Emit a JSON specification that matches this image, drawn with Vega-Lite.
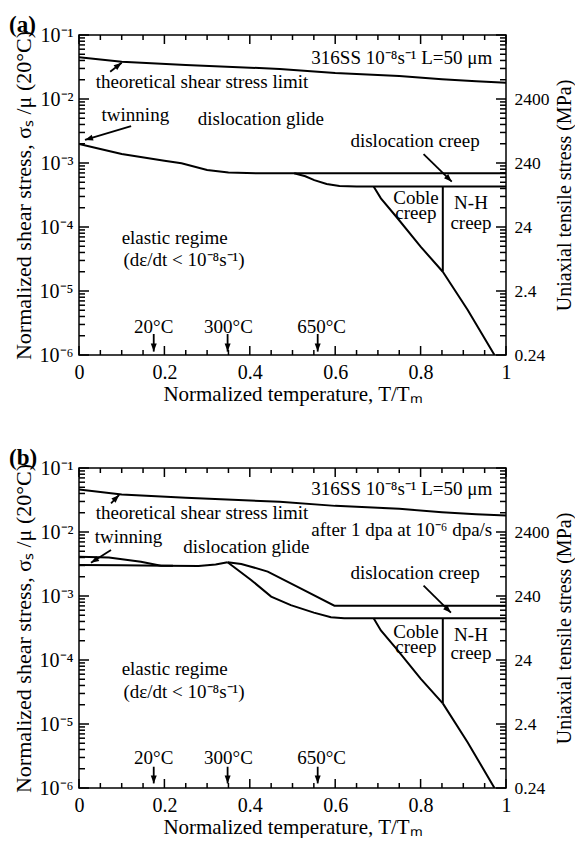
{
  "$schema": "https://vega.github.io/schema/vega-lite/v6.json",
  "padding": {"left": 8, "top": 13, "right": 0, "bottom": 0},
  "spacing": 113,
  "bounds": "flush",
  "config": {
    "font": "Liberation Serif",
    "view": {"stroke": "black", "strokeWidth": 1.5},
    "axis": {"labelFontSize": 20, "titleFontSize": 21, "titleFontWeight": "normal", "labelColor": "black", "titleColor": "black", "domain": false, "grid": false, "labelFlush": false, "ticks": false}
  },
  "datasets": {
    "yticks": [
      {"v": 0.000001, "major": true, "side": 0}, {"v": 0.000002, "major": false, "side": 0}, {"v": 0.000003, "major": false, "side": 0}, {"v": 0.000004, "major": false, "side": 0}, {"v": 0.000005, "major": false, "side": 0}, {"v": 0.000006, "major": false, "side": 0}, {"v": 0.000007, "major": false, "side": 0}, {"v": 0.000008, "major": false, "side": 0}, {"v": 0.000009, "major": false, "side": 0},
      {"v": 0.00001, "major": true, "side": 0}, {"v": 0.00002, "major": false, "side": 0}, {"v": 0.00003, "major": false, "side": 0}, {"v": 0.00004, "major": false, "side": 0}, {"v": 0.00005, "major": false, "side": 0}, {"v": 0.00006, "major": false, "side": 0}, {"v": 0.00007, "major": false, "side": 0}, {"v": 0.00008, "major": false, "side": 0}, {"v": 0.00009, "major": false, "side": 0},
      {"v": 0.0001, "major": true, "side": 0}, {"v": 0.0002, "major": false, "side": 0}, {"v": 0.0003, "major": false, "side": 0}, {"v": 0.0004, "major": false, "side": 0}, {"v": 0.0005, "major": false, "side": 0}, {"v": 0.0006, "major": false, "side": 0}, {"v": 0.0007, "major": false, "side": 0}, {"v": 0.0008, "major": false, "side": 0}, {"v": 0.0009, "major": false, "side": 0},
      {"v": 0.001, "major": true, "side": 0}, {"v": 0.002, "major": false, "side": 0}, {"v": 0.003, "major": false, "side": 0}, {"v": 0.004, "major": false, "side": 0}, {"v": 0.005, "major": false, "side": 0}, {"v": 0.006, "major": false, "side": 0}, {"v": 0.007, "major": false, "side": 0}, {"v": 0.008, "major": false, "side": 0}, {"v": 0.009, "major": false, "side": 0},
      {"v": 0.01, "major": true, "side": 0}, {"v": 0.02, "major": false, "side": 0}, {"v": 0.03, "major": false, "side": 0}, {"v": 0.04, "major": false, "side": 0}, {"v": 0.05, "major": false, "side": 0}, {"v": 0.06, "major": false, "side": 0}, {"v": 0.07, "major": false, "side": 0}, {"v": 0.08, "major": false, "side": 0}, {"v": 0.09, "major": false, "side": 0},
      {"v": 0.1, "major": true, "side": 0},
      {"v": 0.000001, "major": true, "side": 1}, {"v": 0.000002, "major": false, "side": 1}, {"v": 0.000003, "major": false, "side": 1}, {"v": 0.000004, "major": false, "side": 1}, {"v": 0.000005, "major": false, "side": 1}, {"v": 0.000006, "major": false, "side": 1}, {"v": 0.000007, "major": false, "side": 1}, {"v": 0.000008, "major": false, "side": 1}, {"v": 0.000009, "major": false, "side": 1},
      {"v": 0.00001, "major": true, "side": 1}, {"v": 0.00002, "major": false, "side": 1}, {"v": 0.00003, "major": false, "side": 1}, {"v": 0.00004, "major": false, "side": 1}, {"v": 0.00005, "major": false, "side": 1}, {"v": 0.00006, "major": false, "side": 1}, {"v": 0.00007, "major": false, "side": 1}, {"v": 0.00008, "major": false, "side": 1}, {"v": 0.00009, "major": false, "side": 1},
      {"v": 0.0001, "major": true, "side": 1}, {"v": 0.0002, "major": false, "side": 1}, {"v": 0.0003, "major": false, "side": 1}, {"v": 0.0004, "major": false, "side": 1}, {"v": 0.0005, "major": false, "side": 1}, {"v": 0.0006, "major": false, "side": 1}, {"v": 0.0007, "major": false, "side": 1}, {"v": 0.0008, "major": false, "side": 1}, {"v": 0.0009, "major": false, "side": 1},
      {"v": 0.001, "major": true, "side": 1}, {"v": 0.002, "major": false, "side": 1}, {"v": 0.003, "major": false, "side": 1}, {"v": 0.004, "major": false, "side": 1}, {"v": 0.005, "major": false, "side": 1}, {"v": 0.006, "major": false, "side": 1}, {"v": 0.007, "major": false, "side": 1}, {"v": 0.008, "major": false, "side": 1}, {"v": 0.009, "major": false, "side": 1},
      {"v": 0.01, "major": true, "side": 1}, {"v": 0.02, "major": false, "side": 1}, {"v": 0.03, "major": false, "side": 1}, {"v": 0.04, "major": false, "side": 1}, {"v": 0.05, "major": false, "side": 1}, {"v": 0.06, "major": false, "side": 1}, {"v": 0.07, "major": false, "side": 1}, {"v": 0.08, "major": false, "side": 1}, {"v": 0.09, "major": false, "side": 1},
      {"v": 0.1, "major": true, "side": 1}
    ],
    "xticks": [
      {"v": 0, "major": true, "side": 0.000001}, {"v": 0.05, "major": false, "side": 0.000001}, {"v": 0.1, "major": false, "side": 0.000001}, {"v": 0.15, "major": false, "side": 0.000001}, {"v": 0.2, "major": true, "side": 0.000001}, {"v": 0.25, "major": false, "side": 0.000001}, {"v": 0.3, "major": false, "side": 0.000001}, {"v": 0.35, "major": false, "side": 0.000001}, {"v": 0.4, "major": true, "side": 0.000001}, {"v": 0.45, "major": false, "side": 0.000001}, {"v": 0.5, "major": false, "side": 0.000001}, {"v": 0.55, "major": false, "side": 0.000001}, {"v": 0.6, "major": true, "side": 0.000001}, {"v": 0.65, "major": false, "side": 0.000001}, {"v": 0.7, "major": false, "side": 0.000001}, {"v": 0.75, "major": false, "side": 0.000001}, {"v": 0.8, "major": true, "side": 0.000001}, {"v": 0.85, "major": false, "side": 0.000001}, {"v": 0.9, "major": false, "side": 0.000001}, {"v": 0.95, "major": false, "side": 0.000001}, {"v": 1, "major": true, "side": 0.000001},
      {"v": 0, "major": true, "side": 0.1}, {"v": 0.05, "major": false, "side": 0.1}, {"v": 0.1, "major": false, "side": 0.1}, {"v": 0.15, "major": false, "side": 0.1}, {"v": 0.2, "major": true, "side": 0.1}, {"v": 0.25, "major": false, "side": 0.1}, {"v": 0.3, "major": false, "side": 0.1}, {"v": 0.35, "major": false, "side": 0.1}, {"v": 0.4, "major": true, "side": 0.1}, {"v": 0.45, "major": false, "side": 0.1}, {"v": 0.5, "major": false, "side": 0.1}, {"v": 0.55, "major": false, "side": 0.1}, {"v": 0.6, "major": true, "side": 0.1}, {"v": 0.65, "major": false, "side": 0.1}, {"v": 0.7, "major": false, "side": 0.1}, {"v": 0.75, "major": false, "side": 0.1}, {"v": 0.8, "major": true, "side": 0.1}, {"v": 0.85, "major": false, "side": 0.1}, {"v": 0.9, "major": false, "side": 0.1}, {"v": 0.95, "major": false, "side": 0.1}, {"v": 1, "major": true, "side": 0.1}
    ],
    "lines": [
      {"panel": "a", "id": "tsl", "x": 0, "y": 0.0448},
      {"panel": "a", "id": "tsl", "x": 0.1, "y": 0.0383},
      {"panel": "a", "id": "tsl", "x": 0.25, "y": 0.034},
      {"panel": "a", "id": "tsl", "x": 0.47, "y": 0.0295},
      {"panel": "a", "id": "tsl", "x": 0.6, "y": 0.0255},
      {"panel": "a", "id": "tsl", "x": 0.75, "y": 0.0229},
      {"panel": "a", "id": "tsl", "x": 0.85, "y": 0.0203},
      {"panel": "a", "id": "tsl", "x": 0.93, "y": 0.0189},
      {"panel": "a", "id": "tsl", "x": 1, "y": 0.018},
      {"panel": "a", "id": "glide", "x": 0, "y": 0.00198},
      {"panel": "a", "id": "glide", "x": 0.05, "y": 0.00165},
      {"panel": "a", "id": "glide", "x": 0.1, "y": 0.00138},
      {"panel": "a", "id": "glide", "x": 0.2, "y": 0.00108},
      {"panel": "a", "id": "glide", "x": 0.24, "y": 0.00099},
      {"panel": "a", "id": "glide", "x": 0.3, "y": 0.00078},
      {"panel": "a", "id": "glide", "x": 0.35, "y": 0.00071},
      {"panel": "a", "id": "glide", "x": 0.42, "y": 0.00069},
      {"panel": "a", "id": "glide", "x": 1, "y": 0.00069},
      {"panel": "a", "id": "creeplow", "x": 0.504, "y": 0.00069},
      {"panel": "a", "id": "creeplow", "x": 0.53, "y": 0.00062},
      {"panel": "a", "id": "creeplow", "x": 0.551, "y": 0.00054},
      {"panel": "a", "id": "creeplow", "x": 0.58, "y": 0.00047},
      {"panel": "a", "id": "creeplow", "x": 0.61, "y": 0.000438},
      {"panel": "a", "id": "creeplow", "x": 0.65, "y": 0.00043},
      {"panel": "a", "id": "creeplow", "x": 1, "y": 0.00043},
      {"panel": "a", "id": "coble", "x": 0.69, "y": 0.00043},
      {"panel": "a", "id": "coble", "x": 0.707, "y": 0.00028},
      {"panel": "a", "id": "coble", "x": 0.746, "y": 0.000137},
      {"panel": "a", "id": "coble", "x": 0.8, "y": 0.0000493},
      {"panel": "a", "id": "coble", "x": 0.852, "y": 0.00002},
      {"panel": "a", "id": "nh", "x": 0.852, "y": 0.00002},
      {"panel": "a", "id": "nh", "x": 0.91, "y": 0.0000051},
      {"panel": "a", "id": "nh", "x": 0.973, "y": 0.000001},
      {"panel": "a", "id": "vert", "x": 0.852, "y": 0.00002},
      {"panel": "a", "id": "vert", "x": 0.852, "y": 0.00043},
      {"panel": "b", "id": "tsl", "x": 0, "y": 0.0462},
      {"panel": "b", "id": "tsl", "x": 0.1, "y": 0.0385},
      {"panel": "b", "id": "tsl", "x": 0.25, "y": 0.0342},
      {"panel": "b", "id": "tsl", "x": 0.47, "y": 0.0297},
      {"panel": "b", "id": "tsl", "x": 0.6, "y": 0.0256},
      {"panel": "b", "id": "tsl", "x": 0.75, "y": 0.023},
      {"panel": "b", "id": "tsl", "x": 0.85, "y": 0.0204},
      {"panel": "b", "id": "tsl", "x": 0.93, "y": 0.019},
      {"panel": "b", "id": "tsl", "x": 1, "y": 0.0181},
      {"panel": "b", "id": "twin", "x": 0, "y": 0.0041},
      {"panel": "b", "id": "twin", "x": 0.07, "y": 0.004},
      {"panel": "b", "id": "twin", "x": 0.145, "y": 0.00344},
      {"panel": "b", "id": "twin", "x": 0.192, "y": 0.00298},
      {"panel": "b", "id": "twin", "x": 0.22, "y": 0.00296},
      {"panel": "b", "id": "glide", "x": 0, "y": 0.00305},
      {"panel": "b", "id": "glide", "x": 0.1, "y": 0.00302},
      {"panel": "b", "id": "glide", "x": 0.2, "y": 0.00296},
      {"panel": "b", "id": "glide", "x": 0.28, "y": 0.00294},
      {"panel": "b", "id": "glide", "x": 0.32, "y": 0.0031},
      {"panel": "b", "id": "glide", "x": 0.348, "y": 0.00336},
      {"panel": "b", "id": "upper", "x": 0.348, "y": 0.00336},
      {"panel": "b", "id": "upper", "x": 0.38, "y": 0.00315},
      {"panel": "b", "id": "upper", "x": 0.403, "y": 0.00287},
      {"panel": "b", "id": "upper", "x": 0.442, "y": 0.0024},
      {"panel": "b", "id": "upper", "x": 0.52, "y": 0.0013},
      {"panel": "b", "id": "upper", "x": 0.598, "y": 0.000705},
      {"panel": "b", "id": "upper", "x": 1, "y": 0.000705},
      {"panel": "b", "id": "lower", "x": 0.348, "y": 0.00336},
      {"panel": "b", "id": "lower", "x": 0.403, "y": 0.00178},
      {"panel": "b", "id": "lower", "x": 0.45, "y": 0.00098},
      {"panel": "b", "id": "lower", "x": 0.496, "y": 0.00072},
      {"panel": "b", "id": "lower", "x": 0.55, "y": 0.00055},
      {"panel": "b", "id": "lower", "x": 0.59, "y": 0.000465},
      {"panel": "b", "id": "lower", "x": 0.621, "y": 0.000448},
      {"panel": "b", "id": "lower", "x": 1, "y": 0.000448},
      {"panel": "b", "id": "coble", "x": 0.69, "y": 0.000448},
      {"panel": "b", "id": "coble", "x": 0.707, "y": 0.00029},
      {"panel": "b", "id": "coble", "x": 0.746, "y": 0.000143},
      {"panel": "b", "id": "coble", "x": 0.8, "y": 0.000051},
      {"panel": "b", "id": "coble", "x": 0.852, "y": 0.000021},
      {"panel": "b", "id": "nh", "x": 0.852, "y": 0.000021},
      {"panel": "b", "id": "nh", "x": 0.91, "y": 0.0000052},
      {"panel": "b", "id": "nh", "x": 0.973, "y": 0.000001},
      {"panel": "b", "id": "vert", "x": 0.852, "y": 0.000021},
      {"panel": "b", "id": "vert", "x": 0.852, "y": 0.000448}
    ],
    "texts": [
      {"panel": "a", "x": 0.288, "y": 0.0186, "label": "theoretical shear stress limit"},
      {"panel": "a", "x": 0.132, "y": 0.0056, "label": "twinning"},
      {"panel": "a", "x": 0.426, "y": 0.00487, "label": "dislocation glide"},
      {"panel": "a", "x": 0.756, "y": 0.0431, "label": "316SS 10⁻⁸s⁻¹ L=50 μm"},
      {"panel": "a", "x": 0.787, "y": 0.00223, "label": "dislocation creep"},
      {"panel": "a", "x": 0.789, "y": 0.00028, "label": "Coble"},
      {"panel": "a", "x": 0.789, "y": 0.000164, "label": "creep"},
      {"panel": "a", "x": 0.918, "y": 0.000234, "label": "N-H"},
      {"panel": "a", "x": 0.918, "y": 0.000117, "label": "creep"},
      {"panel": "a", "x": 0.224, "y": 0.0000665, "label": "elastic regime"},
      {"panel": "a", "x": 0.246, "y": 0.0000305, "label": "(dε/dt < 10⁻⁸s⁻¹)"},
      {"panel": "a", "x": 0.175, "y": 0.00000277, "label": "20°C"},
      {"panel": "a", "x": 0.35, "y": 0.00000277, "label": "300°C"},
      {"panel": "a", "x": 0.568, "y": 0.00000277, "label": "650°C"},
      {"panel": "b", "x": 0.288, "y": 0.0196, "label": "theoretical shear stress limit"},
      {"panel": "b", "x": 0.116, "y": 0.00845, "label": "twinning"},
      {"panel": "b", "x": 0.392, "y": 0.0059, "label": "dislocation glide"},
      {"panel": "b", "x": 0.756, "y": 0.0465, "label": "316SS 10⁻⁸s⁻¹ L=50 μm"},
      {"panel": "b", "x": 0.756, "y": 0.0107, "label": "after 1 dpa at 10⁻⁶ dpa/s"},
      {"panel": "b", "x": 0.787, "y": 0.00226, "label": "dislocation creep"},
      {"panel": "b", "x": 0.789, "y": 0.000277, "label": "Coble"},
      {"panel": "b", "x": 0.789, "y": 0.000161, "label": "creep"},
      {"panel": "b", "x": 0.918, "y": 0.000246, "label": "N-H"},
      {"panel": "b", "x": 0.918, "y": 0.000127, "label": "creep"},
      {"panel": "b", "x": 0.224, "y": 0.0000715, "label": "elastic regime"},
      {"panel": "b", "x": 0.246, "y": 0.000032, "label": "(dε/dt < 10⁻⁸s⁻¹)"},
      {"panel": "b", "x": 0.175, "y": 0.00000291, "label": "20°C"},
      {"panel": "b", "x": 0.35, "y": 0.00000291, "label": "300°C"},
      {"panel": "b", "x": 0.568, "y": 0.00000291, "label": "650°C"}
    ],
    "arrows": [
      {"panel": "a", "x": 0.073, "y": 0.0267, "x2": 0.1, "y2": 0.0369, "angle": 52},
      {"panel": "a", "x": 0.122, "y": 0.00378, "x2": 0.014, "y2": 0.00229, "angle": 253},
      {"panel": "a", "x": 0.807, "y": 0.00138, "x2": 0.873, "y2": 0.00051, "angle": 135},
      {"panel": "a", "x": 0.175, "y": 0.00000213, "x2": 0.175, "y2": 0.00000113, "angle": 180},
      {"panel": "a", "x": 0.348, "y": 0.00000213, "x2": 0.348, "y2": 0.00000113, "angle": 180},
      {"panel": "a", "x": 0.559, "y": 0.00000213, "x2": 0.559, "y2": 0.00000113, "angle": 180},
      {"panel": "b", "x": 0.075, "y": 0.0281, "x2": 0.094, "y2": 0.0379, "angle": 45},
      {"panel": "b", "x": 0.075, "y": 0.00524, "x2": 0.028, "y2": 0.00331, "angle": 238},
      {"panel": "b", "x": 0.807, "y": 0.00145, "x2": 0.871, "y2": 0.000548, "angle": 135},
      {"panel": "b", "x": 0.175, "y": 0.00000215, "x2": 0.175, "y2": 0.00000118, "angle": 180},
      {"panel": "b", "x": 0.348, "y": 0.00000215, "x2": 0.348, "y2": 0.00000118, "angle": 180},
      {"panel": "b", "x": 0.559, "y": 0.00000215, "x2": 0.559, "y2": 0.00000118, "angle": 180}
    ]
  },
  "vconcat": [
    {
      "width": 427, "height": 320,
      "title": {"text": "(a)", "anchor": "start", "frame": "group", "dx": -70, "offset": -12, "font": "Liberation Serif", "fontSize": 23, "fontWeight": "bold", "color": "black"},
      "layer": [
        {
          "data": {"name": "lines"}, "transform": [{"filter": "datum.panel === 'a'"}],
          "mark": {"type": "line", "color": "black", "strokeWidth": 2, "clip": true},
          "encoding": {
            "x": {"field": "x", "type": "quantitative", "scale": {"domain": [0, 1], "nice": false, "zero": false},
              "axis": {"orient": "bottom", "title": "Normalized temperature, T/Tₘ", "values": [0, 0.2, 0.4, 0.6, 0.8, 1], "format": "~g", "labelPadding": 7, "titlePadding": 1}},
            "y": {"field": "y", "type": "quantitative", "scale": {"type": "log", "domain": [0.000001, 0.1], "nice": false},
              "axis": {"orient": "left", "title": "Normalized shear stress, σₛ /μ (20°C)", "titleFontSize": 22, "values": [0.000001, 0.00001, 0.0001, 0.001, 0.01, 0.1], "labelExpr": "'10' + ['⁻⁶','⁻⁵','⁻⁴','⁻³','⁻²','⁻¹'][round(log(datum.value)/LN10)+6]", "labelPadding": 6, "titlePadding": 4}},
            "detail": {"field": "id"}
          }
        },
        {
          "data": {"name": "texts"}, "transform": [{"filter": "datum.panel === 'a'"}],
          "mark": {"type": "text", "fontSize": 19, "color": "black", "font": "Liberation Serif"},
          "encoding": {
            "x": {"field": "x", "type": "quantitative", "scale": {"domain": [0, 1], "nice": false, "zero": false}, "axis": null},
            "y": {"field": "y", "type": "quantitative", "scale": {"type": "log", "domain": [0.000001, 0.1], "nice": false},
              "axis": {"orient": "right", "title": "Uniaxial tensile stress (MPa)", "titleFontSize": 20, "titleAngle": 270, "titleBaseline": "top", "labelFontSize": 17.5, "values": [0.000001, 0.00001, 0.0001, 0.001, 0.01, 0.1], "labelExpr": "['0.24','2.4','24','240','2400',''][round(log(datum.value)/LN10)+6]", "labelPadding": 8, "titlePadding": 5}},
            "text": {"field": "label"}
          }
        },
        {
          "data": {"name": "arrows"}, "transform": [{"filter": "datum.panel === 'a'"}],
          "mark": {"type": "rule", "color": "black", "strokeWidth": 1.8},
          "encoding": {
            "x": {"field": "x", "type": "quantitative", "scale": {"domain": [0, 1], "nice": false, "zero": false}, "axis": null},
            "y": {"field": "y", "type": "quantitative", "scale": {"type": "log", "domain": [0.000001, 0.1], "nice": false}, "axis": null},
            "x2": {"field": "x2"},
            "y2": {"field": "y2"}
          }
        },
        {
          "data": {"name": "arrows"}, "transform": [{"filter": "datum.panel === 'a'"}],
          "mark": {"type": "point", "shape": "M0,0L0.6,1.6L-0.6,1.6Z", "filled": true, "color": "black", "size": 100, "opacity": 1},
          "encoding": {
            "x": {"field": "x2", "type": "quantitative", "scale": {"domain": [0, 1], "nice": false, "zero": false}, "axis": null},
            "y": {"field": "y2", "type": "quantitative", "scale": {"type": "log", "domain": [0.000001, 0.1], "nice": false}, "axis": null},
            "angle": {"field": "angle", "type": "quantitative", "scale": null}
          }
        },
        {
          "data": {"name": "yticks"},
          "mark": {"type": "point", "shape": "M0,0H2", "filled": false, "color": "black", "strokeWidth": 1.5, "opacity": 1},
          "encoding": {
            "x": {"field": "side", "type": "quantitative", "scale": {"domain": [0, 1], "nice": false, "zero": false}, "axis": null},
            "y": {"field": "v", "type": "quantitative", "scale": {"type": "log", "domain": [0.000001, 0.1], "nice": false}, "axis": null},
            "size": {"condition": {"test": "datum.major", "value": 100}, "value": 36},
            "angle": {"condition": {"test": "datum.side === 1", "value": 180}, "value": 0}
          }
        },
        {
          "data": {"name": "xticks"},
          "mark": {"type": "point", "shape": "M0,0V-2", "filled": false, "color": "black", "strokeWidth": 1.5, "opacity": 1},
          "encoding": {
            "x": {"field": "v", "type": "quantitative", "scale": {"domain": [0, 1], "nice": false, "zero": false}, "axis": null},
            "y": {"field": "side", "type": "quantitative", "scale": {"type": "log", "domain": [0.000001, 0.1], "nice": false}, "axis": null},
            "size": {"condition": {"test": "datum.major", "value": 81}, "value": 25},
            "angle": {"condition": {"test": "datum.side > 0.01", "value": 180}, "value": 0}
          }
        }
      ],
      "resolve": {"axis": {"x": "independent", "y": "independent"}}
    },
    {
      "width": 427, "height": 320,
      "title": {"text": "(b)", "anchor": "start", "frame": "group", "dx": -70, "offset": -12, "font": "Liberation Serif", "fontSize": 23, "fontWeight": "bold", "color": "black"},
      "layer": [
        {
          "data": {"name": "lines"}, "transform": [{"filter": "datum.panel === 'b'"}],
          "mark": {"type": "line", "color": "black", "strokeWidth": 2, "clip": true},
          "encoding": {
            "x": {"field": "x", "type": "quantitative", "scale": {"domain": [0, 1], "nice": false, "zero": false},
              "axis": {"orient": "bottom", "title": "Normalized temperature, T/Tₘ", "values": [0, 0.2, 0.4, 0.6, 0.8, 1], "format": "~g", "labelPadding": 7, "titlePadding": 1}},
            "y": {"field": "y", "type": "quantitative", "scale": {"type": "log", "domain": [0.000001, 0.1], "nice": false},
              "axis": {"orient": "left", "title": "Normalized shear stress, σₛ /μ (20°C)", "titleFontSize": 22, "values": [0.000001, 0.00001, 0.0001, 0.001, 0.01, 0.1], "labelExpr": "'10' + ['⁻⁶','⁻⁵','⁻⁴','⁻³','⁻²','⁻¹'][round(log(datum.value)/LN10)+6]", "labelPadding": 6, "titlePadding": 4}},
            "detail": {"field": "id"}
          }
        },
        {
          "data": {"name": "texts"}, "transform": [{"filter": "datum.panel === 'b'"}],
          "mark": {"type": "text", "fontSize": 19, "color": "black", "font": "Liberation Serif"},
          "encoding": {
            "x": {"field": "x", "type": "quantitative", "scale": {"domain": [0, 1], "nice": false, "zero": false}, "axis": null},
            "y": {"field": "y", "type": "quantitative", "scale": {"type": "log", "domain": [0.000001, 0.1], "nice": false},
              "axis": {"orient": "right", "title": "Uniaxial tensile stress (MPa)", "titleFontSize": 20, "titleAngle": 270, "titleBaseline": "top", "labelFontSize": 17.5, "values": [0.000001, 0.00001, 0.0001, 0.001, 0.01, 0.1], "labelExpr": "['0.24','2.4','24','240','2400',''][round(log(datum.value)/LN10)+6]", "labelPadding": 8, "titlePadding": 5}},
            "text": {"field": "label"}
          }
        },
        {
          "data": {"name": "arrows"}, "transform": [{"filter": "datum.panel === 'b'"}],
          "mark": {"type": "rule", "color": "black", "strokeWidth": 1.8},
          "encoding": {
            "x": {"field": "x", "type": "quantitative", "scale": {"domain": [0, 1], "nice": false, "zero": false}, "axis": null},
            "y": {"field": "y", "type": "quantitative", "scale": {"type": "log", "domain": [0.000001, 0.1], "nice": false}, "axis": null},
            "x2": {"field": "x2"},
            "y2": {"field": "y2"}
          }
        },
        {
          "data": {"name": "arrows"}, "transform": [{"filter": "datum.panel === 'b'"}],
          "mark": {"type": "point", "shape": "M0,0L0.6,1.6L-0.6,1.6Z", "filled": true, "color": "black", "size": 100, "opacity": 1},
          "encoding": {
            "x": {"field": "x2", "type": "quantitative", "scale": {"domain": [0, 1], "nice": false, "zero": false}, "axis": null},
            "y": {"field": "y2", "type": "quantitative", "scale": {"type": "log", "domain": [0.000001, 0.1], "nice": false}, "axis": null},
            "angle": {"field": "angle", "type": "quantitative", "scale": null}
          }
        },
        {
          "data": {"name": "yticks"},
          "mark": {"type": "point", "shape": "M0,0H2", "filled": false, "color": "black", "strokeWidth": 1.5, "opacity": 1},
          "encoding": {
            "x": {"field": "side", "type": "quantitative", "scale": {"domain": [0, 1], "nice": false, "zero": false}, "axis": null},
            "y": {"field": "v", "type": "quantitative", "scale": {"type": "log", "domain": [0.000001, 0.1], "nice": false}, "axis": null},
            "size": {"condition": {"test": "datum.major", "value": 100}, "value": 36},
            "angle": {"condition": {"test": "datum.side === 1", "value": 180}, "value": 0}
          }
        },
        {
          "data": {"name": "xticks"},
          "mark": {"type": "point", "shape": "M0,0V-2", "filled": false, "color": "black", "strokeWidth": 1.5, "opacity": 1},
          "encoding": {
            "x": {"field": "v", "type": "quantitative", "scale": {"domain": [0, 1], "nice": false, "zero": false}, "axis": null},
            "y": {"field": "side", "type": "quantitative", "scale": {"type": "log", "domain": [0.000001, 0.1], "nice": false}, "axis": null},
            "size": {"condition": {"test": "datum.major", "value": 81}, "value": 25},
            "angle": {"condition": {"test": "datum.side > 0.01", "value": 180}, "value": 0}
          }
        }
      ],
      "resolve": {"axis": {"x": "independent", "y": "independent"}}
    }
  ]
}
